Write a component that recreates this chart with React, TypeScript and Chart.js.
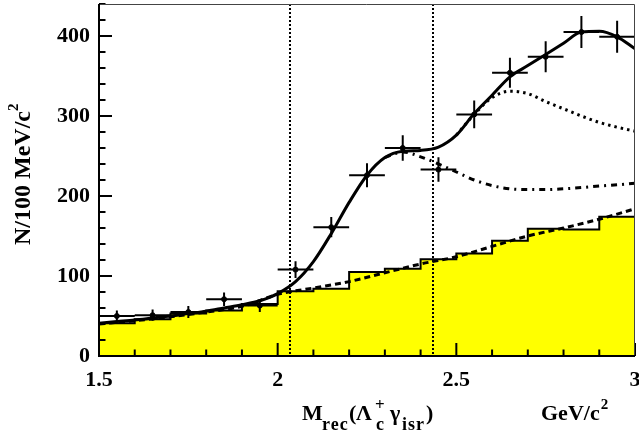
import React, { useEffect, useRef } from "react";
import { Chart, registerables } from "chart.js";

Chart.register(...registerables);

// ---- data ----
const binEdges = [1.5, 1.6, 1.7, 1.8, 1.9, 2.0, 2.1, 2.2, 2.3, 2.4, 2.5, 2.6, 2.7, 2.8, 2.9, 3.0];
const bgHistValues = [41, 46, 53, 57, 65, 81, 84, 105, 109, 121, 128, 144, 159, 158, 174];

const dataX = [1.55, 1.65, 1.75, 1.85, 1.95, 2.05, 2.15, 2.25, 2.35, 2.45, 2.55, 2.65, 2.75, 2.85, 2.95];
const dataY = [50, 51, 55, 71, 63, 108, 161, 226, 260, 233, 302, 354, 374, 405, 399];
const dataErr = [7, 7, 7.4, 8.4, 8, 10.4, 12.7, 15, 16, 15.3, 17.4, 18.8, 19.3, 20, 20];
const halfBin = 0.05;

const fitX = [1.5, 1.55, 1.6, 1.65, 1.7, 1.75, 1.8, 1.85, 1.9, 1.95, 2.0, 2.05, 2.1, 2.15, 2.2, 2.25, 2.3, 2.35, 2.4, 2.45, 2.5, 2.55, 2.6, 2.65, 2.7, 2.75, 2.8, 2.85, 2.9, 2.95, 3.0];
const fitTotal = [41, 43, 45, 47.5, 50, 53, 56, 60, 64, 69, 78, 93, 118, 153, 192, 226, 248, 256, 257, 261, 276, 303, 326, 349, 363, 377, 391, 405, 406, 399, 384];

const dotX = [2.5, 2.55, 2.6, 2.65, 2.7, 2.75, 2.8, 2.85, 2.9, 2.95, 3.0];
const dotY = [276, 302, 323, 331, 328, 318, 309, 300, 292, 286, 281];

const dashDotX = [2.3, 2.35, 2.4, 2.45, 2.5, 2.55, 2.6, 2.65, 2.7, 2.75, 2.8, 2.85, 2.9, 2.95, 3.0];
const dashDotY = [248, 255, 249, 240, 230, 220, 213, 209, 208, 208, 209, 210.5, 212.5, 214, 216];

const bgFitX = [1.5, 1.6, 1.7, 1.8, 1.9, 2.0, 2.1, 2.2, 2.3, 2.4, 2.5, 2.6, 2.7, 2.8, 2.9, 3.0];
const bgFitY = [40, 44, 49, 55, 62, 77, 85, 93, 104, 115, 124, 137, 150, 160, 171, 184];

const signalWindow = [2.035, 2.435];

const xTickLabels: Record<string, string> = { "1.5": "1.5", "2": "2", "2.5": "2.5", "3": "3" };
const yTickLabels: Record<string, string> = { "0": "0", "100": "100", "200": "200", "300": "300", "400": "400" };

const FONT = '"Liberation Serif", "Times New Roman", serif';

type Seg = { t: string; size: number; x: number; dy?: number; ls?: number };
function drawSegs(ctx: CanvasRenderingContext2D, y: number, segs: Seg[]) {
  for (const s of segs) {
    ctx.font = `bold ${s.size}px ${FONT}`;
    (ctx as any).letterSpacing = `${s.ls || 0}px`;
    ctx.fillText(s.t, s.x, y + (s.dy || 0));
  }
  (ctx as any).letterSpacing = "0px";
}

const decorPlugin = {
  id: "decor",
  afterDatasetsDraw(chart: any) {
    const { ctx, chartArea: a, scales } = chart;
    const xs = scales.x;
    const ys = scales.y;
    ctx.save();
    // signal window lines
    ctx.strokeStyle = "#000";
    ctx.lineWidth = 2;
    ctx.setLineDash([2, 2]);
    for (const v of signalWindow) {
      const px = Math.round(xs.getPixelForValue(v));
      ctx.beginPath();
      ctx.moveTo(px, a.top);
      ctx.lineTo(px, a.bottom);
      ctx.stroke();
    }
    ctx.setLineDash([]);
    // ticks (inside)
    ctx.lineWidth = 2;
    for (let v = 0; v <= 440; v += 20) {
      const py = ys.getPixelForValue(v);
      const len = v % 100 === 0 ? 13 : 6.5;
      ctx.beginPath();
      ctx.moveTo(a.left, py);
      ctx.lineTo(a.left + len, py);
      ctx.stroke();
    }
    for (let i = 0; i <= 15; i++) {
      const v = 1.5 + i * 0.1;
      const px = xs.getPixelForValue(v);
      const len = i % 5 === 0 ? 13 : 6.5;
      ctx.beginPath();
      ctx.moveTo(px, a.bottom);
      ctx.lineTo(px, a.bottom - len);
      ctx.stroke();
    }
    // frame
    ctx.lineWidth = 1;
    ctx.strokeStyle = "#444";
    ctx.beginPath();
    ctx.moveTo(a.left, a.top + 0.5);
    ctx.lineTo(a.right - 0.5, a.top + 0.5);
    ctx.lineTo(a.right - 0.5, a.bottom);
    ctx.stroke();
    ctx.lineWidth = 2;
    ctx.strokeStyle = "#000";
    ctx.beginPath();
    ctx.moveTo(a.left, a.top);
    ctx.lineTo(a.left, a.bottom);
    ctx.lineTo(a.right, a.bottom);
    ctx.stroke();
    ctx.restore();
  },
  afterDraw(chart: any) {
    const { ctx } = chart;
    ctx.save();
    ctx.fillStyle = "#000";
    ctx.textBaseline = "alphabetic";
    ctx.textAlign = "left";
    drawSegs(ctx, 420, [
      { t: "M", size: 22, x: 302 },
      { t: "rec", size: 18, x: 322, dy: 10, ls: 1 },
      { t: "(", size: 22, x: 349 },
      { t: "Λ", size: 22, x: 356 },
      { t: "+", size: 17, x: 375, dy: -10 },
      { t: "c", size: 18, x: 376, dy: 10 },
      { t: "γ", size: 22, x: 390 },
      { t: "isr", size: 18, x: 402, dy: 10, ls: 1 },
      { t: ")", size: 22, x: 426 },
    ]);
    ctx.font = `bold 22px ${FONT}`;
    const gev = "GeV/c";
    ctx.fillText(gev, 541, 420);
    const gw = ctx.measureText(gev).width;
    ctx.font = `bold 15px ${FONT}`;
    ctx.fillText("2", 541 + gw + 1, 409);

    ctx.translate(30, 245);
    ctx.rotate(-Math.PI / 2);
    ctx.font = `bold 24px ${FONT}`;
    const main = "N/100 MeV/c";
    ctx.fillText(main, 0, 0);
    const w = ctx.measureText(main).width;
    ctx.font = `bold 15px ${FONT}`;
    ctx.fillText("2", w, -12);
    ctx.restore();
  },
};

function zeroPad(s: any) {
  s.paddingLeft = 0;
  s.paddingRight = 0;
  s.paddingTop = 0;
  s.paddingBottom = 0;
}

export default function App() {
  const ref = useRef<HTMLCanvasElement | null>(null);
  useEffect(() => {
    if (!ref.current) return;
    const histPts = bgHistValues.map((v, i) => ({ x: binEdges[i], y: v }));
    histPts.push({ x: binEdges[binEdges.length - 1], y: bgHistValues[bgHistValues.length - 1] });

    const errPts: { x: number; y: number | null }[] = [];
    dataX.forEach((x, i) => {
      const y = dataY[i];
      const e = dataErr[i];
      errPts.push({ x: x - halfBin, y }, { x: x + halfBin, y }, { x: x + halfBin, y: null });
      errPts.push({ x, y: y - e }, { x, y: y + e }, { x, y: null });
    });

    const tickFont = { family: FONT, size: 22, weight: "bold" as const };
    const chart = new Chart(ref.current, {
      type: "line",
      data: {
        datasets: [
          {
            label: "data",
            data: dataX.map((x, i) => ({ x, y: dataY[i] })),
            showLine: false,
            pointRadius: 2.5,
            pointBackgroundColor: "#000",
            pointBorderColor: "#000",
            borderColor: "#000",
            order: 0,
          },
          {
            label: "errors",
            data: errPts as any,
            borderColor: "#000",
            borderWidth: 2,
            pointRadius: 0,
            spanGaps: false,
            tension: 0,
            order: 1,
          },
          {
            label: "total fit",
            data: fitX.map((x, i) => ({ x, y: fitTotal[i] })),
            borderColor: "#000",
            borderWidth: 3,
            pointRadius: 0,
            cubicInterpolationMode: "monotone",
            order: 2,
          },
          {
            label: "dotted",
            data: dotX.map((x, i) => ({ x, y: dotY[i] })),
            borderColor: "#000",
            borderWidth: 3,
            borderDash: [2.5, 4],
            pointRadius: 0,
            cubicInterpolationMode: "monotone",
            order: 3,
          },
          {
            label: "dash-dot",
            data: dashDotX.map((x, i) => ({ x, y: dashDotY[i] })),
            borderColor: "#000",
            borderWidth: 3,
            borderDash: [6, 5, 2, 5],
            pointRadius: 0,
            cubicInterpolationMode: "monotone",
            order: 4,
          },
          {
            label: "background fit",
            data: bgFitX.map((x, i) => ({ x, y: bgFitY[i] })),
            borderColor: "#000",
            borderWidth: 3,
            borderDash: [6, 4],
            pointRadius: 0,
            cubicInterpolationMode: "monotone",
            order: 5,
          },
          {
            label: "background histogram",
            data: histPts,
            stepped: "before",
            fill: "origin",
            backgroundColor: "#ffff00",
            borderColor: "#000",
            borderWidth: 2,
            pointRadius: 0,
            order: 10,
          },
        ],
      },
      options: {
        animation: false,
        responsive: false,
        devicePixelRatio: 1,
        events: [],
        layout: { padding: { left: 0, right: 4, top: 4, bottom: 0 }, autoPadding: false },
        plugins: { legend: { display: false }, tooltip: { enabled: false } },
        scales: {
          x: {
            type: "linear",
            min: 1.5,
            max: 3,
            afterFit: (s: any) => {
              s.height = 82;
              zeroPad(s);
            },
            grid: { display: false, drawTicks: false },
            border: { display: false },
            ticks: {
              stepSize: 0.5,
              includeBounds: false,
              maxRotation: 0,
              autoSkip: false,
              color: "#000",
              font: tickFont,
              padding: 11,
              callback: (v: any) => xTickLabels[String(v)] ?? "",
            },
          },
          y: {
            type: "linear",
            min: 0,
            max: 440,
            afterFit: (s: any) => {
              s.width = 99;
              zeroPad(s);
            },
            grid: { display: false, drawTicks: false },
            border: { display: false },
            ticks: {
              stepSize: 100,
              includeBounds: false,
              color: "#000",
              font: tickFont,
              padding: 9,
              callback: (v: any) => yTickLabels[String(v)] ?? "",
            },
          },
        },
      },
      plugins: [decorPlugin],
    } as any);
    return () => chart.destroy();
  }, []);
  return (
    <div style={{ position: "fixed", left: 0, top: 0, width: 639, height: 438, background: "#fff" }}>
      <canvas ref={ref} width={639} height={438} style={{ width: 639, height: 438, display: "block" }} />
    </div>
  );
}
